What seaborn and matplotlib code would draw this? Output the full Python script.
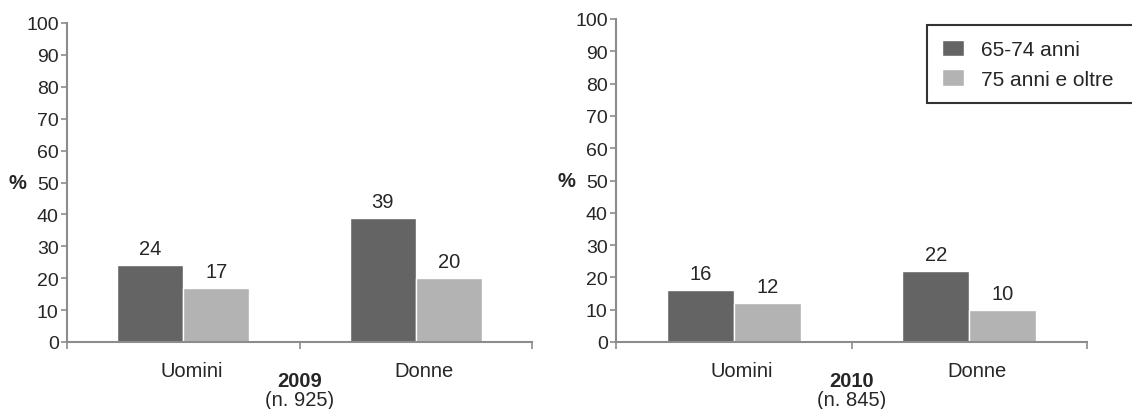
import pandas as pd
import matplotlib
matplotlib.use('Agg')
import matplotlib.pyplot as plt
import matplotlib.transforms as mtransforms
import seaborn as sns

sns.set_style('white')
plt.rcParams['font.family'] = ['Liberation Sans', 'DejaVu Sans']

# data
categorie = ['Uomini', 'Donne']
eta = ['65-74 anni', '75 anni e oltre']
anni = ['2009', '2010']
campione = ['(n. 925)', '(n. 845)']
val_2009_giovani = [24, 39]
val_2009_anziani = [17, 20]
val_2010_giovani = [16, 22]
val_2010_anziani = [12, 10]

colors = ['#646464', '#b3b3b3']
axis_col = '#8c8c8c'
W, H = 1132, 410


def make_df(giovani, anziani):
    rows = []
    for c, g, a in zip(categorie, giovani, anziani):
        rows.append({'sesso': c, 'eta': eta[0], 'valore': g})
        rows.append({'sesso': c, 'eta': eta[1], 'valore': a})
    return pd.DataFrame(rows)


dati = [make_df(val_2009_giovani, val_2009_anziani),
        make_df(val_2010_giovani, val_2010_anziani)]

fig = plt.figure(figsize=(W / 100, H / 100), dpi=100)
ax1 = fig.add_axes([67 / W, (H - 343) / H, 465 / W, 319 / H])
ax2 = fig.add_axes([616 / W, (H - 343) / H, 471 / W, 323 / H])

for ax, df, anno, n in zip([ax1, ax2], dati, anni, campione):
    sns.barplot(data=df, x='sesso', y='valore', hue='eta', palette=colors,
                width=0.568, saturation=1, ax=ax, legend=(ax is ax2))
    for cont in ax.containers:
        ax.bar_label(cont, fmt='%d', padding=5, fontsize=14.5)
    ax.set_ylim(0, 100)
    ax.set_xlim(-0.5, 1.5)
    ax.set_yticks(range(0, 101, 10))
    ax.tick_params(axis='y', labelsize=14, length=4, width=1.2,
                   color=axis_col, pad=2, left=True)
    ax.set_xticks([0, 1])
    ax.set_xticklabels(categorie, fontsize=14.5)
    ax.tick_params(axis='x', which='major', length=0, pad=14)
    ax.set_xticks([-0.5, 0.5, 1.5], minor=True)
    ax.tick_params(axis='x', which='minor', length=5, width=1.2,
                   color=axis_col, bottom=True)
    shift = mtransforms.ScaledTranslation(8 / 100, 0, fig.dpi_scale_trans)
    for lab in ax.get_xticklabels():
        lab.set_transform(lab.get_transform() + shift)
    for s in ['top', 'right']:
        ax.spines[s].set_visible(False)
    for s in ['left', 'bottom']:
        ax.spines[s].set_color(axis_col)
        ax.spines[s].set_linewidth(1.5)
    ax.set_xlabel('')
    ax.set_ylabel('')
    # "%" label next to the 50 tick
    ax.annotate('%', xy=(0, 0.5), xycoords='axes fraction',
                xytext=(-50, 0), textcoords='offset pixels',
                ha='center', va='center', fontsize=14.5, fontweight='bold')
    ax.annotate(anno, xy=(0.5, 0), xycoords='axes fraction',
                xytext=(0, -39), textcoords='offset pixels',
                ha='center', va='center', fontsize=14.5, fontweight='bold')
    ax.annotate(n, xy=(0.5, 0), xycoords='axes fraction',
                xytext=(0, -58), textcoords='offset pixels',
                ha='center', va='center', fontsize=14.5)

leg = ax2.legend(loc='upper left',
                 bbox_to_anchor=(927 / W, (H - 102) / H, 240 / W, 76 / H),
                 bbox_transform=fig.transFigure, mode='expand',
                 fontsize=15, frameon=True, fancybox=False,
                 borderaxespad=0, borderpad=0.7,
                 handlelength=1.06, handleheight=0.82, handletextpad=0.85,
                 labelspacing=0.5, title=None)
leg.get_frame().set_edgecolor('black')
leg.get_frame().set_linewidth(1.5)

fig.savefig('out.png', dpi=100)
